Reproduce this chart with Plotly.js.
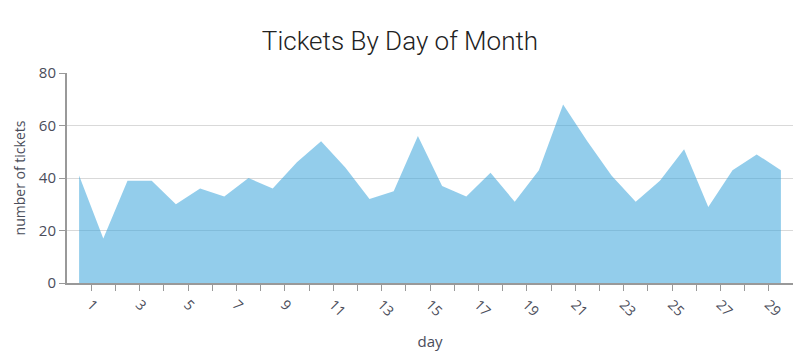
<!DOCTYPE html>
<html>
<head>
<meta charset="utf-8">
<script src="https://cdn.plot.ly/plotly-3.0.1.min.js"></script>
<style>html,body{margin:0;padding:0;background:#fff;}#chart{width:800px;height:357px;}</style>
</head>
<body>
<div id="chart"></div>
<script>
// Data
var days = [1,2,3,4,5,6,7,8,9,10,11,12,13,14,15,16,17,18,19,20,21,22,23,24,25,26,27,28,29,30];
var tickets = [41,17,39,39,30,36,33,40,36,46,54,44,32,35,56,37,33,42,31,43,68,54,41,31,39,51,29,43,49,43];
var tickPositions = [1.5,2.5,3.5,4.5,5.5,6.5,7.5,8.5,9.5,10.5,11.5,12.5,13.5,14.5,15.5,16.5,17.5,18.5,19.5,20.5,21.5,22.5,23.5,24.5,25.5,26.5,27.5,28.5,29.5];
var tickLabels = ['1','','3','','5','','7','','9','','11','','13','','15','','17','','19','','21','','23','','25','','27','','29'];

var trace = {
  x: days,
  y: tickets,
  type: 'scatter',
  mode: 'lines',
  fill: 'tozeroy',
  line: {width: 0, color: 'rgba(59,164,219,0.55)'},
  fillcolor: 'rgba(59,164,219,0.55)',
  hoverinfo: 'x+y'
};

var tickFont = {family: '"Open Sans", sans-serif', size: 15, color: '#4a4d5a'};

var layout = {
  width: 800,
  height: 357,
  margin: {l: 67, r: 7, t: 73, b: 74},
  paper_bgcolor: '#fff',
  plot_bgcolor: '#fff',
  showlegend: false,
  title: {
    text: 'Tickets By Day of Month',
    font: {family: 'Roboto, "Liberation Sans", sans-serif', size: 26, color: '#222', weight: 300},
    x: 0.5, xanchor: 'center', y: 0.885, yanchor: 'middle'
  },
  xaxis: {
    range: [0.5, 30.5],
    tickmode: 'array',
    tickvals: tickPositions,
    ticktext: tickLabels,
    tickangle: 45,
    ticks: 'outside',
    ticklen: 6,
    tickcolor: '#999',
    showline: true,
    linecolor: '#999',
    linewidth: 2,
    showgrid: false,
    zeroline: false,
    tickfont: {family: '"Open Sans", sans-serif', size: 14, color: '#4a4d5a'},
    title: {text: 'day', font: {family: '"Open Sans", sans-serif', size: 15, color: '#4a4d5a'}, standoff: 18}
  },
  yaxis: {
    range: [0, 80],
    tickvals: [0, 20, 40, 60, 80],
    ticks: 'outside',
    ticklen: 6,
    tickcolor: '#999',
    showline: true,
    linecolor: '#999',
    linewidth: 2,
    showgrid: true,
    gridcolor: '#d9d9d9',
    gridwidth: 1,
    zeroline: false,
    tickfont: tickFont,
    title: {text: 'number of tickets', font: {family: '"Open Sans", sans-serif', size: 14, color: '#4a4d5a'}, standoff: 10}
  }
};

Plotly.newPlot('chart', [trace], layout, {displayModeBar: false, staticPlot: true});
</script>
</body>
</html>
